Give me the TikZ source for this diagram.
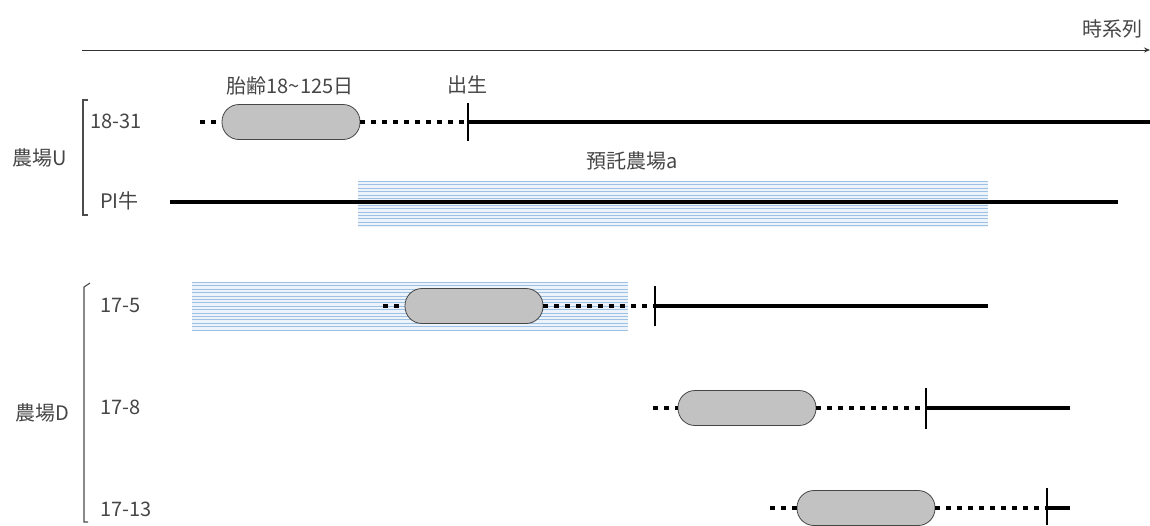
\documentclass[tikz,border=0pt]{standalone}
\usepackage{fontspec}
\setmainfont{Noto Sans CJK JP}
\usetikzlibrary{arrows.meta}
\definecolor{txt}{RGB}{70,70,70}
\definecolor{bandline}{RGB}{158,192,226}
\definecolor{bandbg}{RGB}{236,243,250}
\tikzset{
 lbl/.style={font=\fontsize{20}{22}\selectfont, text=txt, inner sep=0pt},
 capsule/.style={draw=gray!55!black, line width=0.8pt, fill=gray!48, rounded corners=17pt, minimum width=138pt, minimum height=35pt, inner sep=0pt},
 dotline/.style={line width=4.5pt, dash pattern=on 4.5pt off 6.5pt},
 solidline/.style={line width=4.5pt},
 birth/.style={line width=2pt},
 bracketline/.style={draw=gray!60!black, line width=1.1pt},
 axis/.style={line width=0.9pt, draw=black!80, -{Stealth[length=6pt,width=5pt]}},
}
\begin{document}
\begin{tikzpicture}[x=1pt,y=-1pt]
\useasboundingbox (0,0) rectangle (1150,525);
% bands
\fill[bandbg] (358,181) rectangle (988,227);
\foreach \i in {0,...,13} \draw[bandline, line width=1.1pt] (358,181.5+\i*3.4) -- (988,181.5+\i*3.4);
\fill[bandbg] (192,282) rectangle (628,330);
\foreach \i in {0,...,14} \draw[bandline, line width=1.1pt] (192,282.5+\i*3.4) -- (628,282.5+\i*3.4);
% time axis
\coordinate (t0) at (82,50);
\coordinate (t1) at (1150,50);
\draw[axis] (t0) -- (t1);
\node[lbl] (tl) at (1112,29) {時系列};
% brackets
\draw[bracketline] (88,100) -- (83,100) -- (83,215) -- (88,215);
\draw[bracketline] (90,283) -- (84,287) -- (84,522) -- (88,522);
\node[lbl] (fu) at (40,158) {農場U};
\node[lbl] (fd) at (42,413) {農場D};
% row labels
\node[lbl, anchor=west] (l1) at (90,121) {18-31};
\node[lbl, anchor=west] (l2) at (100,201) {PI牛};
\node[lbl, anchor=west] (l3) at (100,305) {17-5};
\node[lbl, anchor=west] (l4) at (100,407) {17-8};
\node[lbl, anchor=west] (l5) at (100,509) {17-13};
% top labels
\node[lbl] (age) at (290,86) {胎齢18\textasciitilde125日};
\node[lbl] (bt) at (467,85) {出生};
\node[lbl] (dep) at (632,161) {預託農場a};
% row 18-31
\coordinate (u0) at (200,122);
\coordinate (ub) at (468,122);
\coordinate (ue) at (1150,122);
\node[capsule] (cu) at (291,122) {};
\draw[dotline] (u0) -- (cu.west);
\draw[dotline] (cu.east) -- (ub);
\draw[solidline] (ub) -- (ue);
\draw[birth] (468,103) -- (468,141);
% PI row
\coordinate (p0) at (170,202);
\coordinate (p1) at (1118,202);
\draw[solidline] (p0) -- (p1);
% row 17-5
\coordinate (a0) at (383,306);
\coordinate (ab) at (655,306);
\coordinate (ae) at (988,306);
\node[capsule] (ca) at (474,306) {};
\draw[dotline] (a0) -- (ca.west);
\draw[dotline] (ca.east) -- (ab);
\draw[solidline] (ab) -- (ae);
\draw[birth] (655,286) -- (655,326);
% row 17-8
\coordinate (b0) at (653,408);
\coordinate (bb) at (926,408);
\coordinate (be) at (1070,408);
\node[capsule] (cb) at (747,408) {};
\draw[dotline] (b0) -- (cb.west);
\draw[dotline] (cb.east) -- (bb);
\draw[solidline] (bb) -- (be);
\draw[birth] (926,388) -- (926,429);
% row 17-13
\coordinate (c0) at (770,508);
\coordinate (cbb) at (1047,508);
\coordinate (ce) at (1070,508);
\node[capsule] (cc) at (866,508) {};
\draw[dotline] (c0) -- (cc.west);
\draw[dotline] (cc.east) -- (cbb);
\draw[solidline] (cbb) -- (ce);
\draw[birth] (1047,488) -- (1047,525);
\end{tikzpicture}
\end{document}
